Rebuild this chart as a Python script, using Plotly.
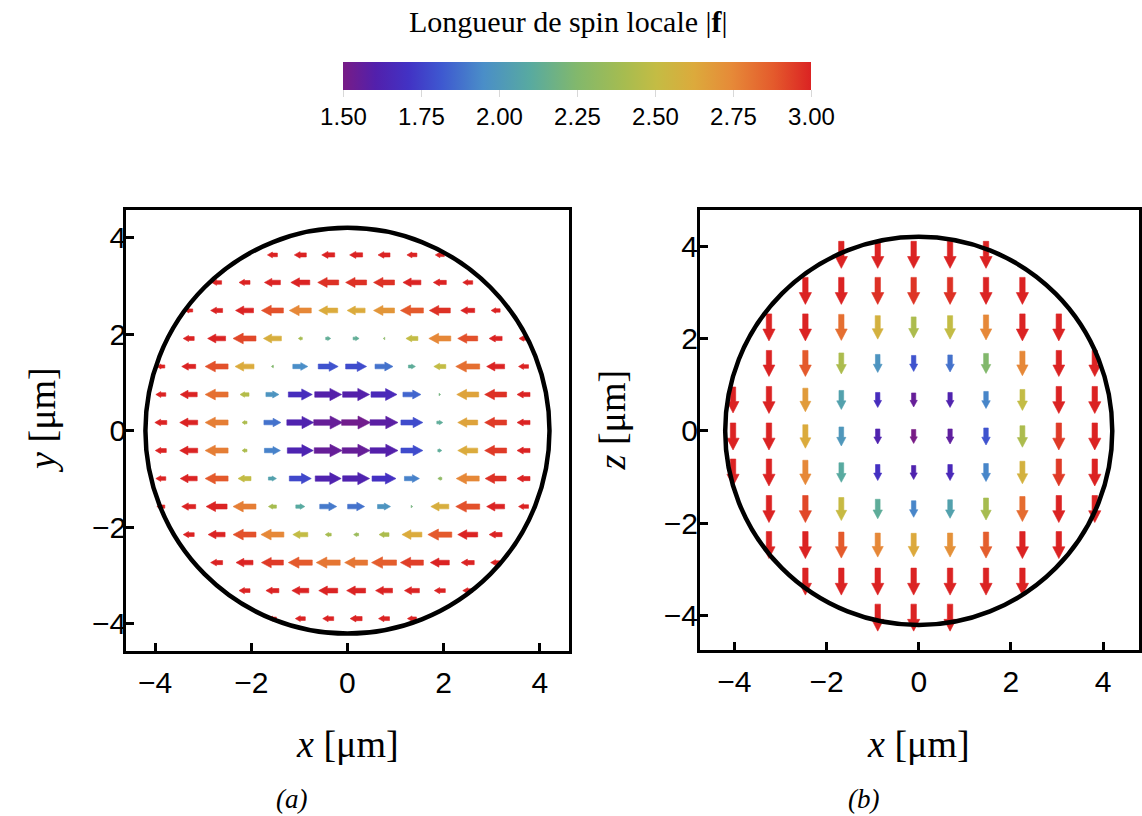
import plotly.graph_objects as go
from plotly.colors import sample_colorscale

W, H = 1142, 816
N = None

# ------------------------------------------------------------------ data
R_CLOUD = 4.2                      # radius of the cloud outline [µm]
F_MIN, F_MAX = 1.5, 3.0            # colour range of |f|
CB_TICKS = [1.50, 1.75, 2.00, 2.25, 2.50, 2.75, 3.00]
AX_TICKS = [-4, -2, 0, 2, 4]

# panel (a): x-y plane, horizontal spin component f_x (a.u.) and |f|
XA = [-3.88, -3.30, -2.72, -2.14, -1.56, -0.98, -0.40, 0.18, 0.76, 1.34, 1.92, 2.50, 3.08, 3.66]
YA = [3.64, 3.07, 2.49, 1.91, 1.33, 0.75, 0.17, -0.41, -0.99, -1.57, -2.15, -2.73, -3.31, -3.89]
FX_A = [
    [N, N, N, N, -1.0, -1.2, -1.3, -1.3, -1.2, -1.0, -0.9, N, N, N],
    [N, N, -1.0, -1.1, -1.6, -1.9, -2.1, -2.1, -2.1, -1.8, -1.3, -1.0, N, N],
    [N, -0.8, -1.2, -1.8, -2.2, -2.2, -1.9, -1.8, -2.1, -2.3, -2.1, -1.4, -0.9, N],
    [N, -1.1, -1.8, -2.3, -1.8, -0.4, 0.5, 0.6, -0.15, -1.2, -2.2, -2.0, -1.3, -0.9],
    [-0.8, -1.4, -2.3, -1.9, -0.2, 1.5, 2.0, 2.1, 1.8, 0.7, -1.2, -2.4, -1.8, -1.0],
    [-1.0, -1.7, -2.3, -0.9, 1.3, 2.4, 2.7, 2.7, 2.6, 1.8, 0.1, -2.2, -2.2, -1.3],
    [-1.2, -1.8, -2.3, -0.5, 1.7, 2.7, 2.9, 2.9, 2.8, 2.2, 0.6, -2.0, -2.2, -1.3],
    [-1.1, -1.8, -2.3, -0.5, 1.6, 2.6, 2.8, 2.8, 2.8, 2.2, 0.4, -2.0, -2.2, -1.3],
    [-1.0, -1.7, -2.3, -1.3, 0.8, 2.2, 2.6, 2.7, 2.4, 1.5, -0.4, -2.3, -2.1, -1.3],
    [-0.8, -1.4, -2.1, -2.3, -0.8, 0.9, 1.7, 1.7, 1.3, 0.1, -1.8, -2.4, -1.8, -1.0],
    [N, -1.1, -1.7, -2.3, -2.3, -1.5, -0.6, -0.5, -1.0, -2.0, -2.4, -2.0, -1.3, N],
    [N, N, -1.2, -1.7, -2.2, -2.4, -2.4, -2.3, -2.5, -2.3, -1.9, -1.3, -1.0, N],
    [N, N, N, -1.1, -1.3, -1.7, -1.9, -1.9, -1.7, -1.5, -1.1, -1.0, N, N],
    [N, N, N, N, -0.8, -1.0, -1.1, -1.2, -1.1, -0.9, N, N, N, N],
]
FMAG_A = [
    [N, N, N, N, 3.0, 3.0, 3.0, 3.0, 3.0, 3.0, 3.0, N, N, N],
    [N, N, 3.0, 3.0, 3.0, 3.0, 2.97, 2.97, 2.97, 3.0, 3.0, 3.0, N, N],
    [N, 3.0, 3.0, 3.0, 2.9, 2.75, 2.62, 2.62, 2.7, 2.88, 2.97, 3.0, 3.0, N],
    [N, 3.0, 3.0, 2.92, 2.6, 2.4, 2.13, 2.13, 2.28, 2.5, 2.75, 2.9, 3.0, 3.0],
    [3.0, 3.0, 2.9, 2.62, 2.25, 1.95, 1.8, 1.78, 1.88, 2.12, 2.5, 2.82, 3.0, 3.0],
    [3.0, 3.0, 2.82, 2.45, 1.98, 1.68, 1.6, 1.6, 1.66, 1.85, 2.2, 2.65, 2.97, 3.0],
    [3.0, 3.0, 2.78, 2.42, 1.88, 1.62, 1.55, 1.52, 1.58, 1.78, 2.12, 2.65, 2.95, 3.0],
    [3.0, 3.0, 2.78, 2.42, 1.92, 1.63, 1.55, 1.55, 1.6, 1.78, 2.12, 2.62, 2.95, 3.0],
    [3.0, 3.0, 2.88, 2.5, 2.05, 1.77, 1.62, 1.62, 1.7, 1.92, 2.3, 2.75, 2.97, 3.0],
    [3.0, 3.0, 3.0, 2.78, 2.4, 2.1, 1.9, 1.88, 1.98, 2.2, 2.6, 2.9, 3.0, 3.0],
    [N, 3.0, 3.0, 2.9, 2.75, 2.5, 2.4, 2.35, 2.42, 2.62, 2.88, 3.0, 3.0, N],
    [N, N, 3.0, 3.0, 2.95, 2.88, 2.8, 2.8, 2.87, 2.94, 3.0, 3.0, 3.0, N],
    [N, N, N, 3.0, 3.0, 3.0, 3.0, 3.0, 3.0, 3.0, 3.0, 3.0, N, N],
    [N, N, N, N, 3.0, 3.0, 3.0, 3.0, 3.0, 3.0, N, N, N, N],
]

# panel (b): x-z plane, vertical spin component f_z (a.u.) and |f|
XB = [-4.03, -3.25, -2.46, -1.68, -0.89, -0.11, 0.68, 1.46, 2.25, 3.04, 3.82]
YB = [3.81, 3.03, 2.24, 1.46, 0.67, -0.12, -0.90, -1.69, -2.47, -3.26, -4.04]
FZ_B = [
    [N, N, N, -2.7, -2.7, -2.7, -2.7, -2.7, N, N, N],
    [N, N, -2.7, -2.7, -2.7, -2.7, -2.7, -2.7, -2.7, N, N],
    [N, -2.7, -2.7, -2.6, -2.35, -2.1, -2.35, -2.5, -2.7, -2.7, N],
    [N, -2.6, -2.6, -2.1, -1.8, -1.6, -1.7, -2.0, -2.45, -2.6, -2.6],
    [-2.6, -2.7, -2.35, -1.9, -1.5, -1.4, -1.5, -1.7, -2.1, -2.7, -2.7],
    [-2.7, -2.7, -2.35, -1.9, -1.5, -1.4, -1.5, -1.7, -2.15, -2.7, -2.7],
    [-2.7, -2.7, -2.45, -1.95, -1.6, -1.4, -1.6, -1.8, -2.25, -2.7, -2.7],
    [N, -2.7, -2.7, -2.3, -1.95, -1.65, -1.85, -2.2, -2.5, -2.7, -2.7],
    [N, -2.7, -2.7, -2.6, -2.4, -2.35, -2.4, -2.6, -2.7, -2.7, N],
    [N, N, -2.7, -2.7, -2.7, -2.7, -2.7, -2.7, -2.7, N, N],
    [N, N, N, N, -2.7, -2.7, -2.7, N, N, N, N],
]
FMAG_B = [
    [N, N, N, 3.0, 3.0, 3.0, 3.0, 3.0, N, N, N],
    [N, N, 3.0, 3.0, 2.97, 2.96, 2.97, 3.0, 3.0, N, N],
    [N, 3.0, 3.0, 2.82, 2.58, 2.42, 2.5, 2.75, 3.0, 3.0, N],
    [N, 3.0, 2.88, 2.42, 1.98, 1.8, 1.88, 2.25, 2.75, 3.0, 3.0],
    [3.0, 3.0, 2.68, 2.05, 1.68, 1.55, 1.62, 1.93, 2.5, 3.0, 3.0],
    [3.0, 3.0, 2.62, 2.0, 1.62, 1.5, 1.57, 1.8, 2.42, 2.95, 3.0],
    [3.0, 3.0, 2.75, 2.1, 1.7, 1.62, 1.66, 1.93, 2.58, 2.95, 3.0],
    [N, 3.0, 2.92, 2.52, 2.12, 1.93, 2.05, 2.4, 2.83, 3.0, 3.0],
    [N, 3.0, 3.0, 2.88, 2.75, 2.63, 2.72, 2.87, 3.0, 3.0, N],
    [N, N, 3.0, 3.0, 3.0, 3.0, 3.0, 3.0, 3.0, N, N],
    [N, N, N, N, 3.0, 3.0, 3.0, N, N, N, N],
]

# ------------------------------------------------------------------ style
COLORSCALE = [
    [0.00, '#781c86'], [0.07, '#5220ac'], [0.14, '#4232c4'], [0.21, '#3e58d0'],
    [0.30, '#4a8ec8'], [0.40, '#58aaa0'], [0.50, '#82b86c'], [0.60, '#a6bc50'],
    [0.67, '#c4bc44'], [0.75, '#dcaa3c'], [0.83, '#e68a38'], [0.92, '#e45a2c'],
    [1.00, '#db2323'],
]
SANS = 'Liberation Sans, Arial, sans-serif'
SERIF = 'Liberation Serif, Times New Roman, serif'
ARROW_PX = 10.0          # pixels per a.u. of spin component

# panel placement (paper fractions) and axis ranges
DOM_A_X, DOM_A_Y = [126.5 / W, 570 / W], [1 - 650.5 / H, 1 - 210 / H]
DOM_B_X, DOM_B_Y = [701.7 / W, 1.0], [1 - 650 / H, 1 - 210 / H]
RNG_A_X, RNG_A_Y = [-4.60, 4.595], [-4.55, 4.57]
RNG_B_X, RNG_B_Y = [-4.75, 4.78], [-4.74, 4.78]


def px_scale(dom, rng, full):
    return (dom[1] - dom[0]) * full / (rng[1] - rng[0])


def color_of(v):
    t = (v - F_MIN) / (F_MAX - F_MIN)
    t = min(max(t, 0.0), 1.0)
    return sample_colorscale(COLORSCALE, [t])[0]


def arrow_poly(cx, cy, ux, uy, L, sx, sy):
    hl = min(0.4 * L + 1.0, L)
    hw = 0.19 * L + 1.0
    sw = min(1.5 + 0.045 * L, 0.62 * hw)
    loc = [(-L / 2, -sw), (L / 2 - hl, -sw), (L / 2 - hl, -hw), (L / 2, 0),
           (L / 2 - hl, hw), (L / 2 - hl, sw), (-L / 2, sw), (-L / 2, -sw)]
    xs = [cx + (t * ux - n * uy) / sx for t, n in loc]
    ys = [cy + (t * uy + n * ux) / sy for t, n in loc]
    return xs, ys


fig = go.Figure()


def add_field(xs, ys, comp, mags, horizontal, xa, ya, sx, sy):
    cx_all, cy_all, c_all = [], [], []
    for j, yv in enumerate(ys):
        for i, xv in enumerate(xs):
            v = comp[j][i]
            m = mags[j][i]
            if v is None:
                continue
            L = max(abs(v) * ARROW_PX, 1.5)
            s = 1.0 if v >= 0 else -1.0
            ux, uy = (s, 0.0) if horizontal else (0.0, s)
            px, py = arrow_poly(xv, yv, ux, uy, L, sx, sy)
            col = color_of(m)
            fig.add_trace(go.Scatter(
                x=px, y=py, mode='lines', fill='toself', fillcolor=col,
                line=dict(color=col, width=0.6), hoverinfo='skip',
                xaxis=xa, yaxis=ya, showlegend=False))
            cx_all.append(xv)
            cy_all.append(yv)
            c_all.append(m)
    return cx_all, cy_all, c_all


sax = px_scale(DOM_A_X, RNG_A_X, W)
say = px_scale(DOM_A_Y, RNG_A_Y, H)
sbx = px_scale(DOM_B_X, RNG_B_X, W)
sby = px_scale(DOM_B_Y, RNG_B_Y, H)

ca = add_field(XA, YA, FX_A, FMAG_A, True, 'x', 'y', sax, say)
cb = add_field(XB, YB, FZ_B, FMAG_B, False, 'x2', 'y2', sbx, sby)

# invisible carrier of the colour bar
fig.add_trace(go.Scatter(
    x=ca[0], y=ca[1], mode='markers', hoverinfo='skip', showlegend=False,
    marker=dict(size=1, opacity=0, color=ca[2], colorscale=COLORSCALE,
                cmin=F_MIN, cmax=F_MAX, showscale=True,
                colorbar=dict(
                    orientation='h', x=579 / W, xanchor='center',
                    y=1 - 62 / H, yanchor='top', len=468, lenmode='pixels',
                    thickness=28, thicknessmode='pixels', outlinewidth=0,
                    xpad=0, ypad=0,
                    tickvals=CB_TICKS, ticktext=[f'{t:.2f}' for t in CB_TICKS],
                    ticks='outside', ticklen=7, tickcolor='#d8d8d8', tickwidth=1,
                    tickfont=dict(family=SANS, size=24, color='black'))),
    xaxis='x', yaxis='y'))

axis_common = dict(
    showgrid=False, zeroline=False, showline=True, linecolor='black', linewidth=3,
    mirror=True, ticks='inside', ticklen=8, tickwidth=3, tickcolor='black',
    tickvals=AX_TICKS, tickfont=dict(family=SANS, size=30, color='black'))

fig.update_layout(
    width=W, height=H, margin=dict(l=0, r=0, t=0, b=0),
    paper_bgcolor='white', plot_bgcolor='white', showlegend=False,
    xaxis=dict(domain=DOM_A_X, range=RNG_A_X, anchor='y', ticklabelstandoff=3, **axis_common),
    yaxis=dict(domain=DOM_A_Y, range=RNG_A_Y, anchor='x', ticklabelstandoff=-9, **axis_common),
    xaxis2=dict(domain=DOM_B_X, range=RNG_B_X, anchor='y2', ticklabelstandoff=3, **axis_common),
    yaxis2=dict(domain=DOM_B_Y, range=RNG_B_Y, anchor='x2', ticklabelstandoff=-7, **axis_common),
)

for xr, yr in (('x', 'y'), ('x2', 'y2')):
    fig.add_shape(type='circle', xref=xr, yref=yr, x0=-R_CLOUD, x1=R_CLOUD,
                  y0=-R_CLOUD, y1=R_CLOUD, line=dict(color='black', width=4.5),
                  layer='above')

ann = [
    (570 / W, 1 - 21 / H, 'Longueur de spin locale |<b>f</b>|', 30, 0),
    (42 / W, 1 - 420 / H, '<i>y</i> [μm]', 38, -90),
    (348 / W, 1 - 744 / H, '<i>x</i> [μm]', 38, 0),
    (614 / W, 1 - 420 / H, '<i>z</i> [μm]', 38, -90),
    (921 / W, 1 - 744 / H, '<i>x</i> [μm]', 38, 0),
    (292 / W, 1 - 799 / H, '<i>(a)</i>', 27, 0),
    (866 / W, 1 - 799 / H, '<i>(b)</i>', 27, 0),
]
for x, y, txt, size, ang in ann:
    fig.add_annotation(x=x, y=y, xref='paper', yref='paper', text=txt,
                       showarrow=False, textangle=ang, xanchor='center',
                       yanchor='middle',
                       font=dict(family=SERIF, size=size, color='black'))

fig.write_html('out.html', config={'displayModeBar': False},
               post_script="document.body.style.margin='0px';"
                           "document.body.style.overflow='hidden';")
